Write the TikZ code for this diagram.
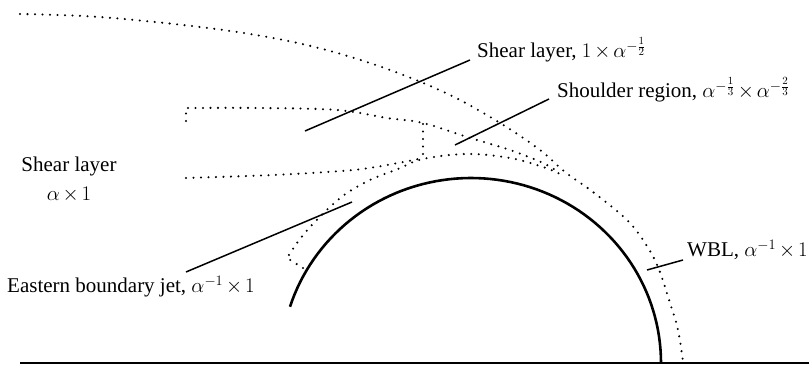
\documentclass[tikz,border=0pt]{standalone}
\usepackage{fontspec}
\setmainfont{Liberation Serif}
\usepackage{amsmath}
\usepackage{tikz}
\usetikzlibrary{calc}
\newcommand{\tms}{\mkern2.5mu\mathord{\times}\mkern2.5mu}
\tikzset{
  dotline/.style={line width=2.3pt, dash pattern=on 0pt off 7.5pt, line cap=round},
  island/.style={line width=2.6pt},
  leader/.style={line width=1.5pt},
  lbl/.style={inner sep=0pt, font=\fontsize{21}{29}\selectfont},
  ground/.style={line width=2.6pt}
}

\begin{document}
\begin{tikzpicture}[x=1pt, y=-1pt]
  \useasboundingbox (0,0) rectangle (809,366);

  % Island and coast
  \coordinate (base l) at (20,363);
  \coordinate (base r) at (809,363);
  \draw[ground] (base l) -- (base r);
  \draw[island] plot[domain=0:162.3, samples=80] ({471+190*cos(\x)}, {363-185*sin(\x)});

  % Outer edge of the shear layer, down into the WBL
  \draw[dotline] plot[smooth, tension=0.6] coordinates {(20,14) (100,17) (200,27) (273,38) (330,51)
    (390,70) (450,95) (500,123) (540,150) (565,172) (593,192) (627,220) (645,243) (658,267)
    (670,303) (678,330) (683,362)};

  % Shoulder region
  \draw[dotline] (186,121) -- plot[smooth, tension=0.6] coordinates {(186,108) (260,108) (337,110)
    (387,118) (423,123) (467,137) (510,150) (543,163) (558,172)};
  \draw[dotline] (423,124) -- (423,157);
  \draw[dotline] plot[smooth, tension=0.6] coordinates {(186,178) (273,175) (353,170) (398,163) (423,158)};

  % Eastern boundary jet
  \draw[dotline] (303,268) -- plot[smooth, tension=0.6] coordinates {(287,258) (297,243) (310,227)
    (330,207) (347,193) (370,180) (398,169) (423,159) (467,154) (510,158) (543,167) (560,174)};

  % Labels
  \node[lbl, anchor=base west] (shearlbl) at (477,58) {Shear layer, $1\tms\alpha^{-\frac{1}{2}}$};
  \node[lbl, anchor=base west] (shoulderlbl) at (557,98) {Shoulder region, $\alpha^{-\frac{1}{3}}\tms\alpha^{-\frac{2}{3}}$};
  \node[lbl, align=center, anchor=base] (westlbl) at (69,201) {Shear layer\\$\alpha\tms 1$};
  \node[lbl, anchor=base west] (ebjlbl) at (7,293) {Eastern boundary jet, $\alpha^{-1}\tms 1$};
  \node[lbl, anchor=base west] (wbllbl) at (687,257) {WBL, $\alpha^{-1}\tms 1$};

  % Leader lines
  \coordinate (shear a) at (305,131);
  \coordinate (shear b) at (470,60);
  \coordinate (shoulder a) at (455,145);
  \coordinate (shoulder b) at (549,99);
  \coordinate (ebj a) at (186,272);
  \coordinate (ebj b) at (352,202);
  \coordinate (wbl a) at (647,270);
  \coordinate (wbl b) at (683,260);
  \draw[leader] (shear a) -- (shear b);
  \draw[leader] (shoulder a) -- (shoulder b);
  \draw[leader] (ebj a) -- (ebj b);
  \draw[leader] (wbl a) -- (wbl b);
\end{tikzpicture}
\end{document}
